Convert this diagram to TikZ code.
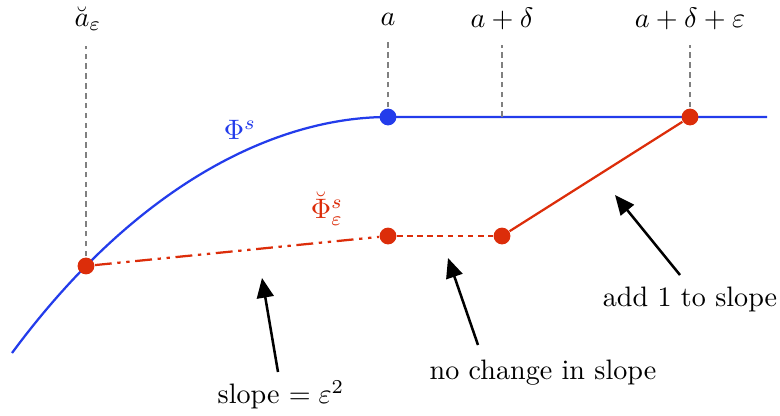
\documentclass[tikz,border=0pt]{standalone}
\usepackage{amsmath}
\usetikzlibrary{arrows.meta}
\definecolor{azul}{RGB}{35,60,235}
\definecolor{rojo}{RGB}{220,45,10}

\begin{document}
\begin{tikzpicture}[
    x=0.0125cm, y=-0.0125cm,
    % Estilos para los puntos y las líneas
    punto_azul/.style={circle, fill=azul, inner sep=0pt, minimum size=0.21cm},
    punto_rojo/.style={circle, fill=rojo, inner sep=0pt, minimum size=0.21cm},
    guia/.style={gray, dash pattern=on 2pt off 1.5pt, line width=0.4pt},
    tramo/.style={rojo, line width=0.8pt},
    texto/.style={font=\normalsize},
    flecha/.style={line width=0.9pt, -{Triangle[length=7pt, width=6pt]}}
    ]
    \useasboundingbox (0,0) rectangle (780,416);

    % Curva azul
    \draw[azul, line width=0.8pt] (12,353) .. controls (140,180) and (280,117) .. (388,117) coordinate[pos=0.19] (aL) -- (767,117);

    % Etiquetas superiores
    \node[texto] (lblAe) at (88,19) {$\breve{a}_\varepsilon$};
    \node[texto] (lblA) at (388,19) {$a$};
    \node[texto] (lblAd) at (502,19) {$a+\delta$};
    \node[texto] (lblAde) at (690,19) {$a+\delta+\varepsilon$};

    % Líneas guía
    \coordinate (cd) at (502,117);
    \draw[guia, shorten >=2pt] (aL) -- (aL |- lblAe.south);
    \draw[guia, shorten >=2pt] (388,117) -- (lblA.south);
    \draw[guia, shorten >=2pt] (cd) -- (lblAd.south);
    \draw[guia, shorten >=2pt] (690,117) -- (lblAde.south);

    % Tramos rojos
    \node[punto_rojo] (p1) at (aL) {};
    \node[punto_rojo] (p2) at (388,236) {};
    \node[punto_rojo] (p3) at (502,236) {};
    \node[punto_rojo] (p4) at (690,117) {};
    \node[punto_azul] (pa) at (388,117) {};
    \draw[tramo, dash pattern=on 6pt off 2pt on 1.2pt off 2pt on 1.2pt off 2pt] (p1) -- (p2);
    \draw[tramo, dash pattern=on 2pt off 1.6pt] (p2) -- (p3);
    \draw[tramo] (p3) -- (p4);

    % Nombres de las funciones
    \node[texto, text=azul] (phi) at (240,130) {$\Phi^s$};
    \node[texto, text=rojo] (phie) at (327,209) {$\breve{\Phi}^s_\varepsilon$};

    % Comentarios con flechas
    \node[texto] (lblS) at (281,395) {slope $=\varepsilon^2$};
    \node[texto] (lblN) at (543,373) {no change in slope};
    \node[texto] (lblU) at (690,299) {add 1 to slope};
    \coordinate (tS) at (278,372);
    \coordinate (hS) at (262,278);
    \coordinate (tN) at (478,345);
    \coordinate (hN) at (448,258);
    \coordinate (tU) at (680,275);
    \coordinate (hU) at (615,195);
    \draw[flecha] (tS) -- (hS);
    \draw[flecha] (tN) -- (hN);
    \draw[flecha] (tU) -- (hU);

\end{tikzpicture}
\end{document}
